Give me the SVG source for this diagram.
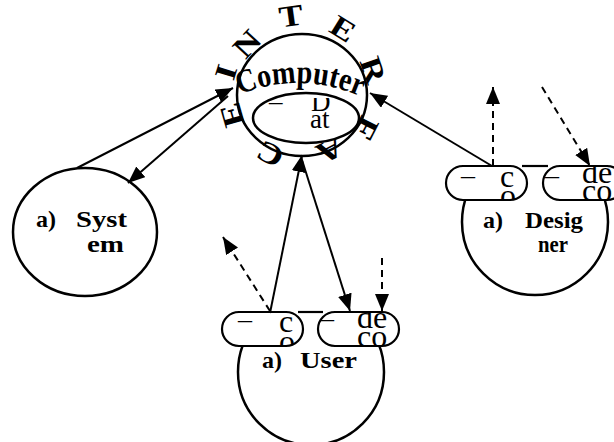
<svg xmlns="http://www.w3.org/2000/svg" width="614" height="442" viewBox="0 0 614 442">
  <style>
    .shape { fill: #fff; stroke: #000; stroke-width: 2.5; }
    .pill { fill: #fff; stroke: #000; stroke-width: 2.2; }
    .label { font-family: "Liberation Serif", "Times New Roman", serif; font-weight: bold; font-size: 24px; fill: #000; }
    .ring { font-family: "Liberation Serif", "Times New Roman", serif; font-weight: bold; font-size: 30px; fill: #000; text-anchor: middle; }
    .title { font-family: "Liberation Serif", "Times New Roman", serif; font-weight: bold; font-size: 33px; fill: #000; }
    .inner { font-family: "Liberation Serif", "Times New Roman", serif; font-size: 32px; fill: #000; }
    .dashmark { font-family: "Liberation Serif", "Times New Roman", serif; font-size: 28px; fill: #000; }
    .data { font-family: "Liberation Serif", "Times New Roman", serif; font-size: 27px; fill: #000; }
    .solid { fill: none; stroke: #000; stroke-width: 2; marker-end: url(#head); }
    .dash { fill: none; stroke: #000; stroke-width: 2; stroke-dasharray: 7 5; marker-end: url(#head); }
  </style>
  <defs>
    <marker id="head" markerUnits="userSpaceOnUse" markerWidth="18" markerHeight="15" refX="17" refY="7" orient="auto">
      <path d="M0,0 L17,7 L0,14 z" fill="#000"/>
    </marker>
    <path id="arcComputer" d="M 234 97 Q 300 68 366 99"/>
    <clipPath id="clipUL"><rect x="222" y="312" width="81" height="34" rx="17"/></clipPath>
    <clipPath id="clipUR"><rect x="318" y="312" width="81" height="34" rx="17"/></clipPath>
    <clipPath id="clipDL"><rect x="446" y="166" width="81" height="34" rx="17"/></clipPath>
    <clipPath id="clipDR"><rect x="543" y="166" width="81" height="34" rx="17"/></clipPath>
    <clipPath id="clipData"><rect x="255" y="98" width="104" height="44"/></clipPath>
    <clipPath id="clipUserBody"><rect x="220" y="312" width="190" height="140"/></clipPath>
    <clipPath id="clipDesignerBody"><rect x="450" y="166" width="170" height="140"/></clipPath>
  </defs>

  <!-- central computer with its interface ring -->
  <g id="computer">
    <ellipse class="shape" cx="302" cy="95" rx="65" ry="61"/>
    <g class="ring">
      <text transform="translate(226 72) rotate(-73) scale(1.2 1)" y="10">I</text>
      <text transform="translate(247 44) rotate(-47) scale(1.2 1)" y="10">N</text>
      <text transform="translate(291 16) rotate(-8) scale(1.2 1)" y="10">T</text>
      <text transform="translate(343 29) rotate(32) scale(1.2 1)" y="10">E</text>
      <text transform="translate(373 70) rotate(71) scale(1.2 1)" y="10">R</text>
      <text transform="translate(366 128) rotate(117) scale(1.2 1)" y="10">F</text>
      <text transform="translate(330 150) rotate(153) scale(1.2 1)" y="10">A</text>
      <text transform="translate(270 154) rotate(208) scale(1.2 1)" y="10">C</text>
      <text transform="translate(232 115) rotate(254) scale(1.2 1)" y="10">E</text>
    </g>
    <text class="title"><textPath href="#arcComputer" startOffset="50%" text-anchor="middle" textLength="124" lengthAdjust="spacingAndGlyphs">Computer</textPath></text>
  </g>

  <!-- data store inside the computer -->
  <g id="data">
    <ellipse class="shape" cx="306" cy="118" rx="53" ry="25"/>
    <g clip-path="url(#clipData)">
      <text class="data" x="269" y="110">–</text>
      <text class="data" x="311" y="111">D</text>
      <text class="data" x="310" y="128">at</text>
    </g>
  </g>

  <!-- system actor -->
  <g id="system">
    <ellipse class="shape" cx="85" cy="232" rx="72" ry="64"/>
    <text class="label" y="227"><tspan x="36">a)</tspan><tspan x="76" textLength="51" lengthAdjust="spacingAndGlyphs">Syst</tspan></text>
    <text class="label" x="87" y="252" textLength="37" lengthAdjust="spacingAndGlyphs">em</text>
  </g>

  <!-- user actor -->
  <g id="user">
    <circle class="shape" cx="311" cy="372" r="73" clip-path="url(#clipUserBody)"/>
    <line x1="298" y1="312" x2="323" y2="312" stroke="#000" stroke-width="2.2"/>
    <rect class="pill" x="222" y="312" width="81" height="34" rx="17"/>
    <rect class="pill" x="318" y="312" width="81" height="34" rx="17"/>
    <g clip-path="url(#clipUL)">
      <text class="dashmark" x="238" y="328">–</text>
      <text class="inner" x="279" y="332">c</text>
      <text class="inner" x="279" y="352">o</text>
    </g>
    <g clip-path="url(#clipUR)">
      <text class="dashmark" x="320" y="327">–</text>
      <text class="inner" x="357" y="328">de</text>
      <text class="inner" x="357" y="347">co</text>
    </g>
    <text class="label" y="368"><tspan x="262">a)</tspan><tspan x="300" textLength="57" lengthAdjust="spacingAndGlyphs">User</tspan></text>
  </g>

  <!-- designer actor -->
  <g id="designer">
    <circle class="shape" cx="535" cy="222" r="73" clip-path="url(#clipDesignerBody)"/>
    <line x1="522" y1="166" x2="548" y2="166" stroke="#000" stroke-width="2.2"/>
    <rect class="pill" x="446" y="166" width="81" height="34" rx="17"/>
    <rect class="pill" x="543" y="166" width="81" height="34" rx="17"/>
    <g clip-path="url(#clipDL)">
      <text class="dashmark" x="461" y="184">–</text>
      <text class="inner" x="500" y="187">c</text>
      <text class="inner" x="500" y="206">o</text>
    </g>
    <g clip-path="url(#clipDR)">
      <text class="dashmark" x="545" y="184">–</text>
      <text class="inner" x="582" y="183">de</text>
      <text class="inner" x="582" y="201">co</text>
    </g>
    <text class="label" y="228"><tspan x="483">a)</tspan><tspan x="525" textLength="58" lengthAdjust="spacingAndGlyphs">Desig</tspan></text>
    <text class="label" x="538" y="252" textLength="30" lengthAdjust="spacingAndGlyphs">ner</text>
  </g>

  <!-- connectors -->
  <g id="connectors">
    <line class="solid" x1="77" y1="168" x2="233" y2="88"/>
    <line class="solid" x1="228" y1="96" x2="128" y2="183"/>
    <line class="solid" x1="270" y1="313" x2="302" y2="155"/>
    <line class="solid" x1="302" y1="160" x2="350" y2="311"/>
    <line class="solid" x1="492" y1="166" x2="370" y2="93"/>
    <line class="dash" x1="270" y1="311" x2="223" y2="237"/>
    <line class="dash" x1="382" y1="258" x2="382" y2="311"/>
    <line class="dash" x1="493" y1="166" x2="493" y2="87"/>
    <line class="dash" x1="542" y1="87" x2="590" y2="166"/>
  </g>
</svg>
